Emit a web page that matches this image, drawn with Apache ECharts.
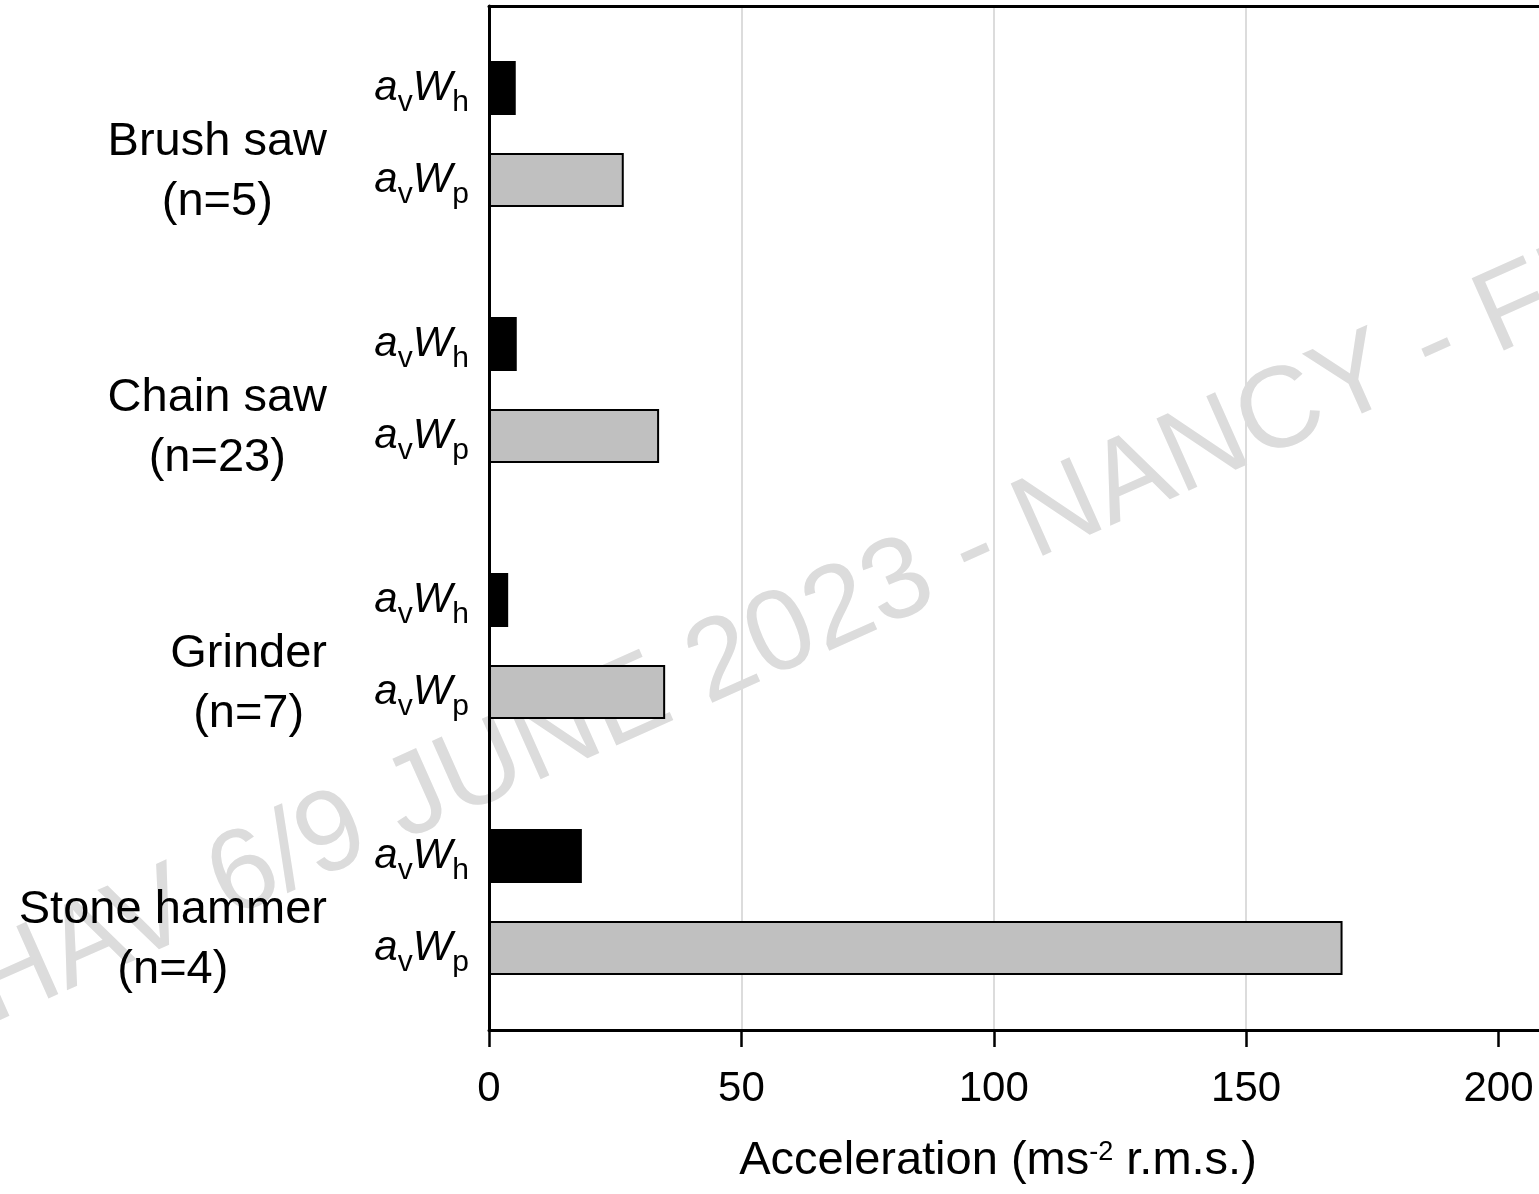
<!DOCTYPE html>
<html>
<head>
<meta charset="utf-8">
<script src="https://cdn.jsdelivr.net/npm/echarts@6/dist/echarts.min.js"></script>
<style>
html,body{margin:0;padding:0;background:#fff;}
#chart{width:1539px;height:1194px;}
</style>
</head>
<body>
<div id="chart"></div>
<script>
// ---- data ----
var tools = ['Brush saw', 'Chain saw', 'Grinder', 'Stone hammer'];
var nCounts = [5, 23, 7, 4];
var avWh = [5.3, 5.5, 3.8, 18.4];
var avWp = [26.7, 33.7, 34.9, 169.1];
var xTicks = [0, 50, 100, 150, 200];
var seriesNames = ['avWh', 'avWp'];
var watermarkText = 'HAV 6/9 JUNE 2023 - NANCY - FRANCE';

var FONT = "'Liberation Sans', Arial, Helvetica, sans-serif";
var chart = echarts.init(document.getElementById('chart'), null, {renderer: 'canvas'});

function subLabel(sub) {
  return '{i|a}{s|v}{i|W}{s|' + sub + '}';
}
var subRich = {
  i: {fontFamily: FONT, fontSize: 42, fontStyle: 'italic', color: '#000', lineHeight: 42},
  s: {fontFamily: FONT, fontSize: 30, color: '#000', lineHeight: 30, padding: [30, 0, 0, 0]}
};

var option = {
  backgroundColor: '#fff',
  animation: false,
  graphic: [{
    type: 'text',
    z: -10,
    x: -22,
    y: 995,
    rotation: 24 * Math.PI / 180,
    style: {
      text: watermarkText,
      font: '115px ' + FONT,
      fill: '#dcdcdc',
      textAlign: 'left',
      textVerticalAlign: 'middle'
    }
  }],
  grid: {left: 489, top: 6, width: 1060, height: 1024, containLabel: false, outerBoundsMode: 'none'},
  xAxis: [{
    type: 'value',
    position: 'bottom',
    min: 0,
    max: 210,
    interval: 50,
    axisLine: {show: true, lineStyle: {color: '#000', width: 3}},
    axisTick: {show: true, length: 17, lineStyle: {color: '#000', width: 2.5}},
    axisLabel: {
      show: true, color: '#000', fontFamily: FONT, fontSize: 42, margin: 38,
      showMaxLabel: false,
      formatter: function (v) { return xTicks.indexOf(v) >= 0 ? String(v) : ''; }
    },
    splitLine: {show: true, lineStyle: {color: ['#dcdcdc', '#dcdcdc', '#dcdcdc', '#dcdcdc', 'rgba(0,0,0,0)', 'rgba(0,0,0,0)'], width: 2}},
    name: '{t|Acceleration (ms}{p|-2}{t| r.m.s.)}',
    nameLocation: 'middle',
    nameGap: 107,
    nameTextStyle: {
      padding: [0, 42, 0, 0],
      rich: {
        t: {fontFamily: FONT, fontSize: 47, color: '#000', lineHeight: 48},
        p: {fontFamily: FONT, fontSize: 27, color: '#000', lineHeight: 27, padding: [0, 0, 17, 0]}
      }
    }
  }, {
    type: 'value',
    position: 'top',
    min: 0,
    max: 210,
    interval: 50,
    axisLine: {show: true, lineStyle: {color: '#000', width: 3}},
    axisTick: {show: false},
    axisLabel: {show: false},
    splitLine: {show: false}
  }],
  yAxis: {
    type: 'category',
    data: tools,
    inverse: true,
    z: 5,
    axisLine: {show: true, lineStyle: {color: '#000', width: 3}},
    axisTick: {show: false},
    splitLine: {show: false},
    axisLabel: {
      show: true,
      margin: 162,
      align: 'right',
      padding: [76, 0, 0, 0],
      formatter: function (v, idx) {
        return '{c|' + v + '}\n{c|(n=' + nCounts[idx] + ')}';
      },
      rich: {
        c: {fontFamily: FONT, fontSize: 47, color: '#000', lineHeight: 60, align: 'center'}
      }
    }
  },
  series: [{
    name: seriesNames[0],
    type: 'bar',
    data: avWh,
    barWidth: 54,
    barGap: '70%',
    itemStyle: {color: '#000', borderColor: '#000', borderWidth: 0},
    label: {show: true, position: 'left', distance: 20, formatter: subLabel('h'), rich: subRich}
  }, {
    name: seriesNames[1],
    type: 'bar',
    data: avWp,
    barWidth: 54,
    barGap: '70%',
    itemStyle: {color: '#c0c0c0', borderColor: '#000', borderWidth: 2},
    label: {show: true, position: 'left', distance: 20, formatter: subLabel('p'), rich: subRich}
  }]
};
chart.setOption(option);
</script>
</body>
</html>
